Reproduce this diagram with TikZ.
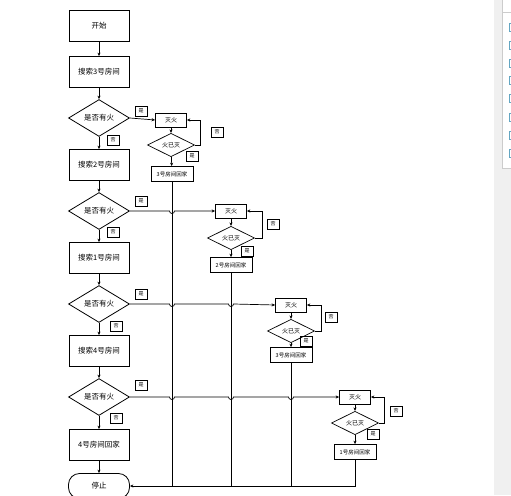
\documentclass[tikz,border=0pt]{standalone}
\usepackage{fontspec}
\newfontfamily\cjk{Noto Sans CJK SC}
\usetikzlibrary{shapes.geometric,arrows.meta,calc}
\tikzset{
  line/.style={line width=0.7pt,draw=black},
  arr/.style={line, -{Stealth[length=3.5pt,width=3pt]}},
  mainbox/.style={draw,line width=0.8pt,minimum width=60pt,minimum height=31pt,inner sep=0pt,font=\cjk\fontsize{7.5}{8}\selectfont},
  decide/.style={draw,line width=0.8pt,diamond,minimum width=61pt,minimum height=30pt,inner sep=0pt,font=\cjk\fontsize{7.5}{8}\selectfont},
  fbox/.style={draw,line width=0.7pt,minimum width=31pt,minimum height=14pt,inner sep=0pt,font=\cjk\fontsize{6}{6}\selectfont},
  gbox/.style={draw,line width=0.7pt,minimum width=42pt,minimum height=15pt,inner sep=0pt,font=\cjk\fontsize{5.5}{6}\selectfont},
  cdec/.style={draw,line width=0.7pt,diamond,minimum width=47pt,minimum height=20pt,inner sep=0pt,font=\cjk\fontsize{6}{6}\selectfont},
  lab/.style={draw,line width=0.6pt,minimum width=12pt,minimum height=10pt,inner sep=0pt,font=\cjk\fontsize{5}{5}\selectfont},
  stopbox/.style={draw,line width=0.8pt,rounded corners=11pt,minimum width=61pt,minimum height=25pt,inner sep=0pt,font=\cjk\fontsize{7.5}{8}\selectfont}
}
\begin{document}
\begin{tikzpicture}[x=1pt,y=-1pt]
\useasboundingbox (0,0) rectangle (511,495);
% right side panel (screenshot artifact)
\fill[gray!12] (494,0) rectangle (511,495);
\filldraw[fill=white,draw=gray!40,line width=0.5pt] (502,-1) rectangle (512,168);
\draw[gray!40,line width=0.5pt] (502,12) -- (511,12);
\foreach \yy in {27,45,63,80,98,117,135,153}
  \draw[cyan!50!gray,line width=0.6pt] (511,\yy-4) -- (509.5,\yy-4) -- (509.5,\yy+4) -- (511,\yy+4);

% main column
\node[mainbox] (s0) at (99,26) {开始};
\node[mainbox] (r3) at (99,72) {搜索3号房间};
\node[decide] (d1) at (99,118) {是否有火};
\node[mainbox] (r2) at (99,165) {搜索2号房间};
\node[decide] (d2) at (99,211) {是否有火};
\node[mainbox] (r1) at (99,258) {搜索1号房间};
\node[decide] (d3) at (99,304) {是否有火};
\node[mainbox] (r4) at (99,351) {搜索4号房间};
\node[decide] (d4) at (99,397) {是否有火};
\node[mainbox] (h4) at (99,445) {4号房间回家};
\node[stopbox] (stop) at (99,486) {停止};

\draw[arr] (s0) -- (r3);
\draw[arr] (r3) -- (d1);
\draw[arr] (d1) -- (r2);
\draw[arr] (r2) -- (d2);
\draw[arr] (d2) -- (r1);
\draw[arr] (r1) -- (d3);
\draw[arr] (d3) -- (r4);
\draw[arr] (r4) -- (d4);
\draw[arr] (d4) -- (h4);
\draw[arr] (h4) -- (stop);

% labels on main column
\node[lab] (y1) at (141,111) {是};
\node[lab] (n1) at (113,140) {否};
\node[lab] (y2) at (141,201) {是};
\node[lab] (n2) at (113,232) {否};
\node[lab] (y3) at (141,294) {是};
\node[lab] (n3) at (116,326) {否};
\node[lab] (y4) at (141,385) {是};
\node[lab] (n4) at (116,418) {否};

% sub-flow 1
\node[fbox] (f1) at (171,120) {灭火};
\node[cdec] (c1) at (171,145) {火已灭};
\node[gbox] (g1) at (172,174) {3号房间回家};
\coordinate (l1) at (200,145);
\node[lab] (o1) at (217,132) {否};
\node[lab] (e1) at (192,156) {是};
% sub-flow 2
\node[fbox] (f2) at (231,211) {灭火};
\node[cdec] (c2) at (231,238) {火已灭};
\node[gbox] (g2) at (231,265) {2号房间回家};
\coordinate (l2) at (262,238);
\node[lab] (o2) at (273,224) {否};
\node[lab] (e2) at (247,251) {是};
% sub-flow 3
\node[fbox] (f3) at (291,305) {灭火};
\node[cdec] (c3) at (291,331) {火已灭};
\node[gbox] (g3) at (291,355) {3号房间回家};
\coordinate (l3) at (321,331);
\node[lab] (o3) at (331,317) {否};
\node[lab] (e3) at (306,341) {是};
% sub-flow 4
\node[fbox] (f4) at (355,397) {灭火};
\node[cdec] (c4) at (355,423) {火已灭};
\node[gbox] (g4) at (355,452) {1号房间回家};
\coordinate (l4) at (384,423);
\node[lab] (o4) at (396,411) {否};
\node[lab] (e4) at (373,434) {是};

\foreach \i in {1,2,3,4}{
  \draw[arr] (f\i) -- (c\i);
  \draw[arr] (c\i) -- (g\i);
  \draw[arr] (c\i.east) -- (l\i) |- (f\i.east);
}

% yes-branches with hops over vertical lines
\draw[arr] (d1.east) -- (f1.west);
\draw[arr] (d2.east) -- ($(g1.south|-d2.east)+(-2.5,0)$) arc[start angle=180,end angle=0,radius=2.5] -- (f2.west);
\draw[arr] (d3.east) -- ($(g1.south|-d3.east)+(-2.5,0)$) arc[start angle=180,end angle=0,radius=2.5]
  -- ($(g2.south|-d3.east)+(-2.5,0)$) arc[start angle=180,end angle=0,radius=2.5] -- (f3.west);
\draw[arr] (d4.east) -- ($(g1.south|-d4.east)+(-2.5,0)$) arc[start angle=180,end angle=0,radius=2.5]
  -- ($(g2.south|-d4.east)+(-2.5,0)$) arc[start angle=180,end angle=0,radius=2.5]
  -- ($(g3.south|-d4.east)+(-2.5,0)$) arc[start angle=180,end angle=0,radius=2.5] -- (f4.west);

% return lines to stop
\draw[line] (g1.south) -- (g1.south|-stop.east);
\draw[line] (g2.south) -- (g2.south|-stop.east);
\draw[line] (g3.south) -- (g3.south|-stop.east);
\draw[arr] (g4.south) |- (stop.east);
\end{tikzpicture}
\end{document}
